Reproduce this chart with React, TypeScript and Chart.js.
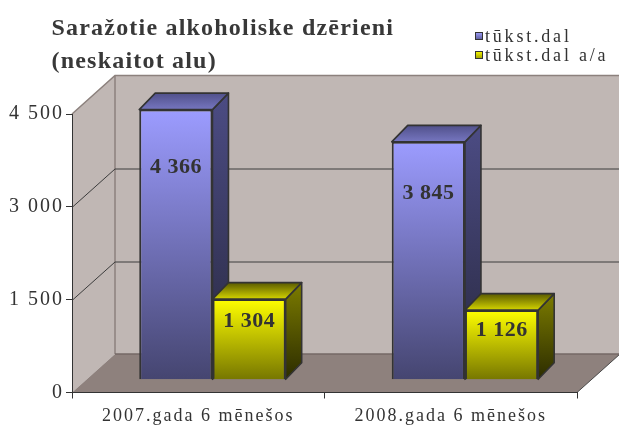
import React, { useEffect, useRef } from 'react';
import { Chart, registerables } from 'chart.js';

Chart.register(...registerables);

// ---- data ----
const categories = ['2007.gada 6 mēnešos', '2008.gada 6 mēnešos'];
const seriesNames = ['tūkst.dal', 'tūkst.dal a/a'];
const valuesDal = [4366, 3845];
const valuesDalAA = [1304, 1126];
const titleLines = ['Saražotie alkoholiske dzērieni', '(neskaitot alu)'];
const yMin = 0;
const yMax = 4500;
const yStep = 1500;

// ---- style ----
const FONT = '"Liberation Serif", "Times New Roman", serif';
const TEXT = '#333333';
const WALL = '#c0b7b4';
const FLOOR = '#8e817d';
const EDGE = '#8c817d';
const GRID = '#3c3c3c';
const WALL_DX = 43;
const WALL_DY = 38.5;
const BAR_SHIFT_X = 14.2;
const BAR_SHIFT_Y = 12.7;
const BAR_DX = 16;
const BAR_DY = 16.5;

const palettes = [
  { front: ['#9c9cff', '#454570'], top: ['#50508a', '#7676c0'], side: ['#4c4c84', '#28283f'], legend: ['#a0a0ff', '#5a5a96'] },
  { front: ['#ffff00', '#767600'], top: ['#5a5a00', '#d4d400'], side: ['#7c7c00', '#2c2c00'], legend: ['#ffff00', '#9a9a00'] },
];

const fmt = (v: number) => String(v).replace(/\B(?=(\d{3})+(?!\d))/g, ' ');

function poly(ctx: CanvasRenderingContext2D, pts: number[][]) {
  ctx.beginPath();
  ctx.moveTo(pts[0][0], pts[0][1]);
  for (let i = 1; i < pts.length; i++) ctx.lineTo(pts[i][0], pts[i][1]);
  ctx.closePath();
}

function frontGradient(idx: number) {
  return (c: any) => {
    const chart = c.chart;
    const ys = chart.scales && chart.scales.y;
    if (c.type !== 'data' || !ys) return palettes[idx].front[0];
    const top = ys.getPixelForValue(c.raw);
    const base = ys.getPixelForValue(0);
    if (!isFinite(top) || !isFinite(base) || top === base) return palettes[idx].front[0];
    const g = chart.ctx.createLinearGradient(0, top, 0, base);
    g.addColorStop(0, palettes[idx].front[0]);
    g.addColorStop(1, palettes[idx].front[1]);
    return g;
  };
}

function drawFaces(ctx: CanvasRenderingContext2D, el: any, pal: any) {
  const p = el.getProps(['x', 'y', 'base', 'width'], true);
  const x1 = p.x - p.width / 2;
  const x2 = p.x + p.width / 2;
  const top = p.y;
  const base = p.base;
  ctx.lineWidth = 1.6;
  ctx.strokeStyle = '#333333';
  ctx.lineJoin = 'round';
  const sg = ctx.createLinearGradient(0, top - BAR_DY, 0, base);
  sg.addColorStop(0, pal.side[0]);
  sg.addColorStop(1, pal.side[1]);
  ctx.fillStyle = sg;
  poly(ctx, [[x2, top], [x2 + BAR_DX, top - BAR_DY], [x2 + BAR_DX, base - BAR_DY], [x2, base]]);
  ctx.fill();
  ctx.stroke();
  const tg = ctx.createLinearGradient(0, top - BAR_DY, 0, top);
  tg.addColorStop(0, pal.top[0]);
  tg.addColorStop(1, pal.top[1]);
  ctx.fillStyle = tg;
  poly(ctx, [[x1, top], [x1 + BAR_DX, top - BAR_DY], [x2 + BAR_DX, top - BAR_DY], [x2, top]]);
  ctx.fill();
  ctx.stroke();
}

const threeD = {
  id: 'threeD',
  beforeDraw(chart: any) {
    const { ctx, chartArea: a } = chart;
    const y = chart.scales.y;
    const L = a.left, R = a.right;
    const T = y.getPixelForValue(yMax);
    const B = y.getPixelForValue(yMin);
    ctx.save();
    ctx.fillStyle = '#ffffff';
    ctx.fillRect(0, 0, chart.width, chart.height);
    ctx.fillStyle = WALL;
    poly(ctx, [[L, B], [L, T], [L + WALL_DX, T - WALL_DY], [L + WALL_DX, B - WALL_DY]]);
    ctx.fill();
    ctx.fillRect(L + WALL_DX, T - WALL_DY, R - L, B - T);
    ctx.fillStyle = FLOOR;
    poly(ctx, [[L, B], [R, B], [R + WALL_DX, B - WALL_DY], [L + WALL_DX, B - WALL_DY]]);
    ctx.fill();
    ctx.strokeStyle = EDGE;
    ctx.lineWidth = 1.5;
    ctx.beginPath();
    ctx.moveTo(L, T);
    ctx.lineTo(L + WALL_DX, T - WALL_DY);
    ctx.lineTo(R + WALL_DX, T - WALL_DY);
    ctx.moveTo(L + WALL_DX, T - WALL_DY);
    ctx.lineTo(L + WALL_DX, B - WALL_DY);
    ctx.stroke();
    ctx.strokeStyle = '#756966';
    ctx.beginPath();
    ctx.moveTo(L + WALL_DX, B - WALL_DY);
    ctx.lineTo(R + WALL_DX, B - WALL_DY);
    ctx.stroke();
    ctx.strokeStyle = '#4a4a4a';
    ctx.lineWidth = 1;
    ctx.beginPath();
    ctx.moveTo(R, B);
    ctx.lineTo(R + WALL_DX, B - WALL_DY);
    ctx.stroke();
    ctx.strokeStyle = GRID;
    ctx.lineWidth = 1;
    for (let v = yMin + yStep; v < yMax; v += yStep) {
      const yy = Math.round(y.getPixelForValue(v)) + 0.5;
      ctx.beginPath();
      ctx.moveTo(L, yy);
      ctx.lineTo(L + WALL_DX, yy - WALL_DY);
      ctx.lineTo(R + WALL_DX, yy - WALL_DY);
      ctx.stroke();
    }
    ctx.restore();
    (ctx as any).letterSpacing = '2px';
  },
  beforeDatasetsDraw(chart: any) {
    const ctx = chart.ctx;
    (ctx as any).letterSpacing = '0px';
    ctx.save();
    ctx.translate(BAR_SHIFT_X, -BAR_SHIFT_Y);
  },
  afterDatasetsDraw(chart: any) {
    const ctx = chart.ctx;
    const metas = chart.data.datasets.map((_: any, i: number) => chart.getDatasetMeta(i));
    const n = chart.data.labels.length;
    for (let c = 0; c < n; c++) {
      metas.forEach((meta: any, di: number) => {
        const el = meta.data[c];
        if (!el) return;
        if (di > 0) el.draw(ctx);
        drawFaces(ctx, el, palettes[di]);
      });
    }
    ctx.restore();
    ctx.save();
    (ctx as any).letterSpacing = '0.5px';
    ctx.font = `bold 22px ${FONT}`;
    ctx.fillStyle = TEXT;
    ctx.textAlign = 'center';
    ctx.textBaseline = 'alphabetic';
    chart.data.datasets.forEach((ds: any, di: number) => {
      const meta = chart.getDatasetMeta(di);
      meta.data.forEach((el: any, i: number) => {
        const p = el.getProps(['x', 'y', 'base'], true);
        const h = p.base - p.y;
        const cy = p.y - BAR_SHIFT_Y + 0.19 * h + 5;
        ctx.fillText(fmt(ds.data[i]), p.x + BAR_SHIFT_X + 0.25, cy + 7.4);
      });
    });
    ctx.restore();
  },
  afterDraw(chart: any) {
    const ctx = chart.ctx;
    ctx.save();
    (ctx as any).letterSpacing = '1.2px';
    ctx.font = `bold 24px ${FONT}`;
    ctx.fillStyle = '#383838';
    ctx.textAlign = 'left';
    ctx.textBaseline = 'alphabetic';
    ctx.fillText(titleLines[0], 51.5, 35);
    ctx.fillText(titleLines[1], 51.5, 68);
    (ctx as any).letterSpacing = '2.8px';
    ctx.font = `18px ${FONT}`;
    const rows = [32, 51];
    seriesNames.forEach((name, i) => {
      const by = rows[i];
      const g = ctx.createLinearGradient(0, by, 0, by + 8);
      g.addColorStop(0, palettes[i].legend[0]);
      g.addColorStop(1, palettes[i].legend[1]);
      ctx.fillStyle = g;
      ctx.fillRect(475, by, 8, 8);
      ctx.strokeStyle = '#333333';
      ctx.lineWidth = 1;
      ctx.strokeRect(475.5, by + 0.5, 7, 7);
      ctx.fillStyle = TEXT;
      ctx.fillText(name, 485, by + 9.7);
    });
    ctx.restore();
    (ctx as any).letterSpacing = '0px';
  },
};

export default function App() {
  const ref = useRef<HTMLCanvasElement | null>(null);
  useEffect(() => {
    if (!ref.current) return;
    const chart = new Chart(ref.current, {
      type: 'bar',
      data: {
        labels: categories,
        datasets: [
          {
            label: seriesNames[0],
            data: valuesDal,
            backgroundColor: frontGradient(0),
            borderColor: '#333333',
            borderWidth: 2,
            categoryPercentage: 0.58,
            barPercentage: 1,
            clip: false,
          } as any,
          {
            label: seriesNames[1],
            data: valuesDalAA,
            backgroundColor: frontGradient(1),
            borderColor: '#333333',
            borderWidth: 2,
            categoryPercentage: 0.58,
            barPercentage: 1,
            clip: false,
          } as any,
        ],
      },
      options: {
        responsive: false,
        devicePixelRatio: 1,
        animation: false,
        events: [],
        layout: { padding: { left: 8, top: 114, right: 42, bottom: 0 } },
        plugins: {
          legend: { display: false },
          title: { display: false },
          tooltip: { enabled: false },
        },
        scales: {
          x: {
            type: 'category',
            grid: { offset: true, drawOnChartArea: false, drawTicks: true, tickLength: 6, color: '#333333' },
            border: { display: true, color: '#333333', width: 1 },
            ticks: { color: TEXT, font: { family: FONT, size: 18 }, padding: 7, maxRotation: 0, autoSkip: false },
            afterFit: (s: any) => { s.height = 33.5; },
          },
          y: {
            min: yMin,
            max: yMax,
            grid: { drawOnChartArea: false, drawTicks: true, tickLength: 6, color: '#333333' },
            border: { display: true, color: '#333333', width: 1 },
            ticks: {
              stepSize: yStep,
              color: TEXT,
              font: { family: FONT, size: 20 },
              padding: 2,
              callback: (v: any) => fmt(Number(v)),
            },
            afterFit: (s: any) => { s.width = 64; },
          },
        },
      } as any,
      plugins: [threeD as any],
    });
    return () => chart.destroy();
  }, []);
  return (
    <div style={{ position: 'absolute', left: 0, top: 0, width: 619, height: 426, background: '#ffffff' }}>
      <canvas ref={ref} width={619} height={426} style={{ display: 'block' }} />
    </div>
  );
}
